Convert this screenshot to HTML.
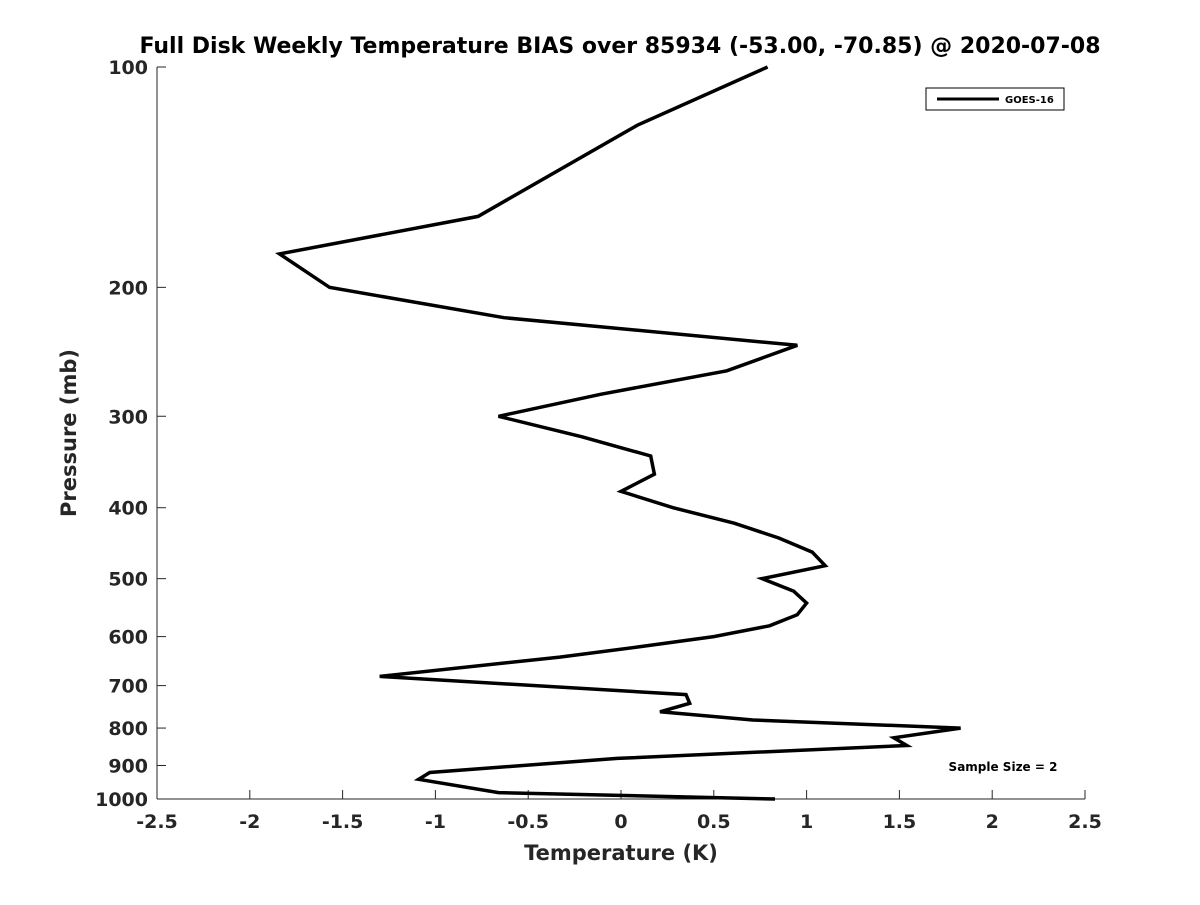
<!DOCTYPE html>
<html><head><meta charset="utf-8"><style>
body{margin:0;background:#fff;width:1200px;height:900px;overflow:hidden}
text{font-family:"DejaVu Sans","Liberation Sans",sans-serif;font-weight:bold;fill:#262626}
</style></head><body>
<svg id="chart" width="1200" height="900">
<text x="620" y="53" text-anchor="middle" font-size="22" style="fill:#000">Full Disk Weekly Temperature BIAS over 85934 (-53.00, -70.85) @ 2020-07-08</text>
<g id="axes"></g>
<path id="line" fill="none" stroke="#000" stroke-width="3.5" stroke-linejoin="miter"/>
<g>
<rect x="926" y="88" width="138" height="22" fill="#fff" stroke="#000" stroke-width="1"/>
<line x1="937" y1="99" x2="999" y2="99" stroke="#000" stroke-width="3"/>
<text x="1005" y="103" font-size="10" style="fill:#000">GOES-16</text>
</g>
<text x="1003" y="771" text-anchor="middle" font-size="12" style="fill:#000">Sample Size = 2</text>
<text x="621" y="860" text-anchor="middle" font-size="21">Temperature (K)</text>
<text transform="translate(76,433) rotate(-90)" text-anchor="middle" font-size="21">Pressure (mb)</text>
</svg>
<script>
const xTicks=[-2.5,-2,-1.5,-1,-0.5,0,0.5,1,1.5,2,2.5];
const xTickLabels=["-2.5","-2","-1.5","-1","-0.5","0","0.5","1","1.5","2","2.5"];
const yTicks=[100,200,300,400,500,600,700,800,900,1000];
const yTickLabels=["100","200","300","400","500","600","700","800","900","1000"];
const pressures=[100,120,160,180,200,220,240,260,280,300,320,340,360,380,400,420,440,460,480,500,520,540,560,580,600,620,640,680,720,740,760,780,800,825,845,880,920,940,980,1000];
const biasValues=[0.79,0.09,-0.77,-1.84,-1.57,-0.63,0.95,0.57,-0.11,-0.66,-0.21,0.16,0.18,0.0,0.28,0.61,0.85,1.03,1.10,0.76,0.93,1.0,0.95,0.80,0.50,0.09,-0.33,-1.30,0.35,0.37,0.21,0.71,1.83,1.47,1.54,-0.02,-1.03,-1.09,-0.66,0.83];
const L=157,R=1085,T=67,B=799;
const xs=v=>L+(v+2.5)/5*(R-L);
const ys=p=>T+(Math.log10(p)-2)*(B-T);
const NS="http://www.w3.org/2000/svg";
const ax=document.getElementById('axes');
function mk(tag,attrs){const e=document.createElementNS(NS,tag);for(const k in attrs)e.setAttribute(k,attrs[k]);ax.appendChild(e);return e;}
let e=mk('line',{x1:L,y1:B,x2:R,y2:B,stroke:'#262626','stroke-width':1});


e=mk('line',{x1:L,y1:T,x2:L,y2:B,stroke:'#262626','stroke-width':1});


xTicks.forEach((v,i)=>{const x=xs(v);
 mk('line',{x1:x,y1:B,x2:x,y2:B-9,stroke:'#262626','stroke-width':1});
 const t=mk('text',{x:x,y:B+29,'text-anchor':'middle','font-size':19});t.textContent=xTickLabels[i];
 
 
});
yTicks.forEach((p,i)=>{const y=ys(p);
 mk('line',{x1:L,y1:y,x2:L+9,y2:y,stroke:'#262626','stroke-width':1});
 const t=mk('text',{x:L-9,y:y+7,'text-anchor':'end','font-size':19});t.textContent=yTickLabels[i];
 
 
});
document.getElementById('line').setAttribute('d',pressures.map((p,i)=>(i?'L':'M')+xs(biasValues[i]).toFixed(1)+' '+ys(p).toFixed(1)).join(' '));
</script>
</body></html>
